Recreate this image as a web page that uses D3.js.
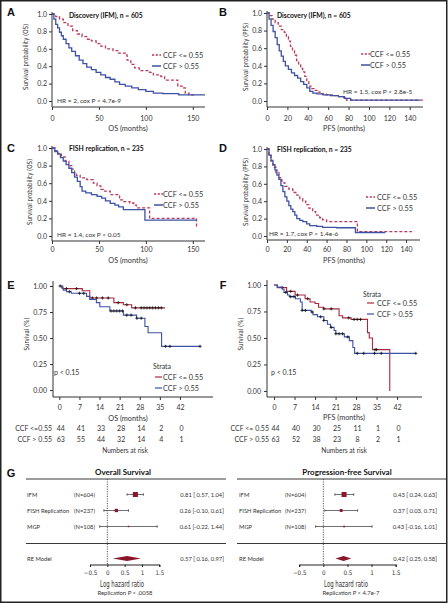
<!DOCTYPE html>
<html><head><meta charset="utf-8">
<script src="https://cdn.jsdelivr.net/npm/d3@7"></script>
<style>body{margin:0;background:#fff}svg{display:block}</style>
</head><body>
<script>
// ================= DATA =================
// Kaplan-Meier step points [time (months), survival]; last point = last follow-up
const A_red  = [[0,1],[4,0.97],[8,0.94],[12,0.9],[17,0.86],[22,0.81],[27,0.77],[32,0.74],[37,0.71],[42,0.69],[47,0.66],[52,0.63],[57,0.60],[65,0.58],[70,0.55],[78,0.53],[80,0.47],[84,0.42],[88,0.38],[93,0.35],[104,0.33],[108,0.30],[116,0.28],[120,0.24],[132,0.24],[134,0.17],[140,0.15],[142,0.09],[146,0.07],[152,0.07]];
const A_blue = [[0,1],[2,0.94],[4,0.88],[6,0.84],[8,0.79],[10,0.75],[12,0.71],[15,0.66],[18,0.61],[21,0.57],[25,0.52],[29,0.47],[33,0.43],[37,0.39],[42,0.36],[47,0.33],[52,0.30],[57,0.27],[62,0.25],[67,0.22],[72,0.19],[78,0.17],[85,0.15],[92,0.13],[100,0.11],[108,0.09],[118,0.085],[135,0.07],[163,0.07]];
const B_red  = [[0,1],[2,0.97],[5,0.93],[8,0.89],[11,0.85],[14,0.81],[17,0.78],[19,0.73],[21,0.68],[23,0.62],[25,0.57],[27,0.52],[29,0.46],[31,0.41],[33,0.37],[35,0.33],[37,0.28],[39,0.22],[41,0.17],[43,0.14],[46,0.12],[49,0.10],[53,0.08],[58,0.07],[64,0.06],[70,0.05],[75,0.04],[78,0.01],[153,0.01]];
const B_blue = [[0,1],[2,0.93],[4,0.86],[6,0.79],[8,0.72],[10,0.64],[12,0.57],[14,0.51],[16,0.45],[18,0.40],[21,0.36],[24,0.32],[27,0.29],[30,0.26],[33,0.22],[36,0.19],[39,0.15],[42,0.11],[45,0.09],[49,0.08],[55,0.07],[62,0.06],[70,0.05],[76,0.03],[82,0.01],[150,0.01]];
const C_red  = [[0,1],[3,0.97],[6,0.94],[10,0.90],[14,0.85],[18,0.80],[21,0.76],[24,0.72],[26,0.69],[30,0.66],[37,0.64],[44,0.60],[48,0.57],[52,0.53],[55,0.51],[62,0.47],[72,0.41],[76,0.39],[83,0.375],[87,0.35],[90,0.32],[104,0.20],[154,0.10],[155,0.10]];
const C_blue = [[0,1],[3,0.96],[6,0.93],[9,0.89],[12,0.85],[15,0.81],[18,0.77],[21,0.72],[24,0.67],[27,0.62],[30,0.56],[32,0.51],[36,0.49],[42,0.47],[48,0.45],[53,0.43],[57,0.40],[62,0.37],[67,0.35],[71,0.33],[76,0.30],[99,0.18],[154,0.18]];
const D_red  = [[0,1],[2,0.93],[4,0.86],[6,0.79],[9,0.73],[12,0.67],[15,0.61],[18,0.57],[22,0.54],[26,0.50],[30,0.47],[33,0.43],[36,0.40],[39,0.36],[42,0.32],[46,0.28],[49,0.24],[53,0.21],[56,0.185],[60,0.165],[91,0.05],[146,0.05]];
const D_blue = [[0,1],[2,0.93],[4,0.87],[6,0.82],[8,0.76],[10,0.70],[12,0.65],[14,0.58],[16,0.51],[18,0.45],[20,0.40],[22,0.35],[24,0.31],[26,0.28],[28,0.24],[30,0.20],[33,0.18],[36,0.165],[40,0.14],[43,0.12],[50,0.11],[56,0.10],[70,0.095],[89,0.04],[119,0.04]];
const E_red  = [[0,1],[1.2,0.975],[8,0.955],[10.6,0.885],[19,0.84],[22.3,0.82],[25.2,0.79],[36.8,0.79]];
const E_blue = [[0,1],[0.8,0.98],[1.4,0.96],[2.5,0.945],[4.2,0.93],[9.5,0.9],[10.6,0.87],[12.9,0.84],[14.1,0.80],[17.6,0.76],[22.3,0.72],[26.9,0.69],[29.8,0.61],[30.9,0.55],[35.6,0.42],[49,0.42]];
const F_red  = [[0,1],[1.1,0.975],[4.3,0.94],[7.2,0.905],[10.6,0.87],[12.3,0.84],[14,0.825],[15.2,0.79],[17,0.775],[22.2,0.71],[23.4,0.69],[26.3,0.675],[31.9,0.55],[32.5,0.50],[33.6,0.39],[39.5,0]];
const F_blue = [[0,1],[1.1,0.98],[2.8,0.96],[3.4,0.93],[4.6,0.905],[5.2,0.89],[7.3,0.87],[9,0.84],[9.6,0.76],[12.7,0.745],[13.3,0.72],[14.8,0.70],[17,0.665],[18.2,0.63],[19.3,0.60],[20.5,0.57],[21.1,0.54],[24,0.51],[25.7,0.475],[26.9,0.41],[27.5,0.355],[48.4,0.355]];
// censoring times
const E_redCens  = [0.3,2.5,6,11.5,13,15,17,20.5,23.5,26.5,28.5,29.5,30.5,31.5,32.5,33.5,34.5,35.5];
const E_blueCens = [3.5,7,8.5,18,19,20,21,22,23.5,25,27,28.5,37,38.5,49];
const F_redCens  = [2.8,5.7,8,11.5,17,19.5,25.5,27.3,28.4,29.5,34.5,35];
const F_blueCens = [4,5.7,6.8,9.6,10.7,13,15.9,17,19.5,21.1,22.2,23.4,25.2,28.4,30.6,34.3,36.6,48.4];
// numbers at risk
const E_riskLow  = [44,41,33,28,14,2,0];
const E_riskHigh = [63,55,44,32,14,4,1];
const F_riskLow  = [44,40,30,25,11,1,0];
const F_riskHigh = [63,52,38,23,8,2,1];
// ticks
const ticksOS = [0,50,100,150];
const ticksPFS = [0,20,40,60,80,100,120,140];
const ticksProb = [0,0.2,0.4,0.6,0.8,1];
const ticksRiskX = [0,7,14,21,28,35,42];
const ticksRiskY = [0,0.25,0.5,0.75,1];
const ticksForest = [-0.5,0,0.5,1,1.5];
// forest
const studies = ["IFM","FISH Replication","MGP"];
const studyN = ["(N=604)","(N=237)","(N=108)"];
const osEst = [0.81,0.26,0.61], osLo = [0.57,-0.10,-0.22], osHi = [1.04,0.61,1.44];
const osRE = [0.57,0.16,0.97];
const pfsEst = [0.43,0.37,0.43], pfsLo = [0.24,0.03,-0.16], pfsHi = [0.63,0.71,1.01];
const pfsRE = [0.42,0.25,0.58];

// ================= DRAW =================
const FONT = "Lato, 'Open Sans', sans-serif";
const NARROW = "'Liberation Sans Narrow', 'DejaVu Sans Condensed', sans-serif";
const RED = "#b83a5c", BLUE = "#3d52a3", RED2 = "#a8283e", BLUE2 = "#3b50a6", DARKRED = "#8b1428";
const TXT = "#333";

const svg = d3.select("body").append("svg").attr("width",448).attr("height",605)
  .style("font-family", FONT);
svg.append("rect").attr("width",448).attr("height",605).attr("fill","#fff");
svg.append("rect").attr("x",0.75).attr("y",0.75).attr("width",446).attr("height",601.5)
  .attr("fill","none").attr("stroke","#222").attr("stroke-width",1.5);

function text(g, x, y, s, o={}) {
  const t = g.append("text").attr("x",x).attr("y",y).text(s)
    .attr("dominant-baseline","central").attr("fill", o.fill||TXT)
    .attr("font-size", o.size||7).attr("text-anchor", o.anchor||"start");
  if (o.weight) t.attr("font-weight", o.weight);
  if (o.family) t.attr("font-family", o.family);
  if (o.rotate) t.attr("transform", `rotate(-90,${x},${y})`);
  if (o.len) t.attr("textLength", o.len).attr("lengthAdjust","spacingAndGlyphs");
  return t;
}
function sAt(curve, t) { let v = curve[0][1]; for (const [tt,s] of curve) { if (tt <= t) v = s; else break; } return v; }

// panel letters
[["A",11,12],["B",223,12],["C",11,148],["D",223,148],["E",11,285],["F",223,285],["G",11,473]]
  .forEach(([l,x,y]) => text(svg,x,y,l,{size:11,weight:"bold",anchor:"middle",fill:"#111",family:"'Liberation Sans', Arial, sans-serif"}));

function drawKM(p) {
  const g = svg.append("g");
  const x = d3.scaleLinear().domain(p.xDom).range(p.xRange);
  const y = d3.scaleLinear().domain(p.yDom).range(p.yRange);
  const x0 = p.xRange[0];
  // x axis
  const ax = g.append("g").attr("transform",`translate(0,${p.axisY})`)
    .call(d3.axisBottom(x).tickValues(p.xTicks).tickSize(3).tickFormat(d3.format("d")));
  ax.select(".domain").remove();
  ax.selectAll("line").attr("stroke",TXT);
  ax.selectAll("text").attr("y",p.xLabOff).attr("dy",null).attr("dominant-baseline","central")
    .attr("font-size",p.tickSize||7).attr("fill",TXT).attr("font-family",FONT);
  g.append("line").attr("x1",x0).attr("x2",p.xRange[1]).attr("y1",p.axisY).attr("y2",p.axisY).attr("stroke",TXT);
  // y axis
  const ay = g.append("g").attr("transform",`translate(${x0},0)`)
    .call(d3.axisLeft(y).tickValues(p.yTicks).tickSize(3).tickPadding(p.yPad).tickFormat(d3.format(p.yFmt)));
  ay.select(".domain").remove();
  ay.selectAll("line").attr("stroke",TXT);
  ay.selectAll("text").attr("font-size",p.tickSize||7).attr("fill",TXT).attr("font-family",FONT);
  g.append("line").attr("x1",x0).attr("x2",x0).attr("y1",p.yLineTop).attr("y2",p.axisY).attr("stroke",TXT);
  // labels
  text(g, p.xLab[1], p.xLab[2], p.xLab[0], {anchor:"middle", size:7.3});
  text(g, p.yLab[1], p.yLab[2], p.yLab[0], {anchor:"middle", size:7, rotate:true, family:NARROW, len:p.yLab[3]});
  // curves
  const line = d3.line().x(d=>x(d[0])).y(d=>y(d[1])).curve(d3.curveStepAfter);
  p.curves.forEach(c => {
    g.append("path").attr("d", line(c.data)).attr("fill","none").attr("stroke",c.color)
      .attr("stroke-width",c.width||1.3).attr("stroke-dasharray",c.dash||null);
    if (c.cens) c.cens.forEach(t => {
      g.append("path").attr("d","M-1.6,0H1.6M0,-1.6V1.6")
        .attr("transform",`translate(${x(t)},${y(sAt(c.data,t))})`)
        .attr("stroke","#111").attr("stroke-width",0.8);
    });
  });
  return {g,x,y};
}

const kmPanels = [
  {xDom:[0,163], xRange:[52,205], yDom:[0,1], yRange:[101,14], axisY:107, yLineTop:12, xTicks:ticksOS, xLabOff:11,
   yTicks:ticksProb, yFmt:".1f", yPad:2, xLab:["OS (months)",128,128], yLab:["Survival probability (OS)",26,57,66],
   curves:[{data:A_red,color:RED,dash:"3,2"},{data:A_blue,color:BLUE}],
   title:["Discovery (IFM), n = 605",69,15], legend:[152,163,55,66], hr:["HR = 2, cox P < 4.7e-9",57,100,"start"]},
  {xDom:[0,153], xRange:[267,423], yDom:[0,1], yRange:[101,13], axisY:107, yLineTop:11, xTicks:ticksPFS, xLabOff:11,
   yTicks:ticksProb, yFmt:".1f", yPad:2, xLab:["PFS (months)",344,128], yLab:["Survival probability (PFS)",246,57,68],
   curves:[{data:B_red,color:RED,dash:"3,2"},{data:B_blue,color:BLUE}],
   title:["Discovery (IFM), n = 605",277,15], legend:[361,370,54,65], hr:["HR = 1.5, cox P < 2.8e-5",343,91,"start"]},
  {xDom:[0,163], xRange:[52,205], yDom:[0,1], yRange:[236,148], axisY:241, yLineTop:146, xTicks:ticksOS, xLabOff:8,
   yTicks:ticksProb, yFmt:".1f", yPad:2, xLab:["OS (months)",128,260], yLab:["Survival probability (OS)",30,192,66],
   curves:[{data:C_red,color:RED,dash:"3,2"},{data:C_blue,color:BLUE}],
   title:["FISH replication, n = 235",69,148], legend:[154,163,194,205], hr:["HR = 1.4, cox P < 0.05",57,234,"start"]},
  {xDom:[0,154], xRange:[267,420], yDom:[0,1], yRange:[236,149], axisY:240, yLineTop:147, xTicks:ticksPFS, xLabOff:9,
   yTicks:ticksProb, yFmt:".1f", yPad:2, xLab:["PFS (months)",344,260], yLab:["Survival probability (PFS)",246,192,68],
   curves:[{data:D_red,color:RED,dash:"3,2"},{data:D_blue,color:BLUE}],
   title:["FISH replication, n = 235",277,149], legend:[366,377,197,208], hr:["HR = 1.7, cox P < 1.4e-6",269,233,"start"]}
];
kmPanels.forEach(p => {
  const {g} = drawKM(p);
  text(g, p.title[1], p.title[2], p.title[0], {size:6.8, weight:"bold", fill:"#111"});
  const [lx, tx, y1, y2] = p.legend;
  g.append("line").attr("x1",lx).attr("x2",lx+9).attr("y1",y1).attr("y2",y1).attr("stroke",RED).attr("stroke-width",1.3).attr("stroke-dasharray","2.2,1.5");
  g.append("line").attr("x1",lx).attr("x2",lx+9).attr("y1",y2).attr("y2",y2).attr("stroke",BLUE).attr("stroke-width",1.5);
  text(g, tx, y1, "CCF <= 0.55", {size:7.3});
  text(g, tx, y2, "CCF > 0.55", {size:7.3});
  text(g, p.hr[1], p.hr[2], p.hr[0], {size:6.5});
});

const riskPanels = [
  {xDom:[-2.2,53.5], xRange:[53,213], yDom:[-0.067,1.048], yRange:[397,281], axisY:397, yLineTop:281, xTicks:ticksRiskX, xLabOff:10,
   yTicks:ticksRiskY, yFmt:".2f", yPad:3, xLab:["OS (months)",128,418], yLab:["Survival (%)",27,334,33],
   curves:[{data:E_red,color:RED2,width:1.1,cens:E_redCens},{data:E_blue,color:BLUE2,width:1.1,cens:E_blueCens}],
   legend:[153,155,163,366,377,388], p:[54,372], risk:[E_riskLow,E_riskHigh], riskLab:["CCF <=0.55","CCF > 0.55"], riskX:52, nar:[125,450]},
  {xDom:[-2.4,50.5], xRange:[267,422], yDom:[-0.057,1.047], yRange:[397,280], axisY:397, yLineTop:280, xTicks:ticksRiskX, xLabOff:10,
   yTicks:ticksRiskY, yFmt:".2f", yPad:3, xLab:["PFS (months)",344,417], yLab:["Survival (%)",241,334,33],
   curves:[{data:F_red,color:RED2,width:1.1,cens:F_redCens},{data:F_blue,color:BLUE2,width:1.1,cens:F_blueCens}],
   legend:[363,367,377,294,303,314], p:[271,372], risk:[F_riskLow,F_riskHigh], riskLab:["CCF <= 0.55","CCF > 0.55"], riskX:269, nar:[344,450]}
];
riskPanels.forEach(p => {
  const {g,x} = drawKM(p);
  const [sx, lx, tx, ys, y1, y2] = p.legend;
  text(g, sx, ys, "Strata", {size:7});
  g.append("line").attr("x1",lx).attr("x2",lx+7).attr("y1",y1).attr("y2",y1).attr("stroke",RED2).attr("stroke-width",1.2);
  g.append("line").attr("x1",lx).attr("x2",lx+7).attr("y1",y2).attr("y2",y2).attr("stroke",BLUE2).attr("stroke-width",1.2);
  text(g, tx, y1, "CCF <= 0.55", {size:7.3});
  text(g, tx, y2, "CCF > 0.55", {size:7.3});
  text(g, p.p[0], p.p[1], "p < 0.15", {size:7});
  const rows = [428, 439];
  p.risk.forEach((arr, i) => {
    text(g, p.riskX, rows[i], p.riskLab[i], {size:7, anchor:"end"});
    arr.forEach((v, j) => text(g, x(ticksRiskX[j]) + 1.5, rows[i], String(v), {size:7, anchor:"middle"}));
  });
  text(g, p.nar[0], p.nar[1], "Numbers at risk", {size:6.6, anchor:"middle"});
});

// forest plots
function fmt(v) { return (v < 0 ? "" : " ") + v.toFixed(2); }
function forest(f) {
  const g = svg.append("g");
  const x = d3.scaleLinear().domain([-0.5,1.5]).range(f.range);
  const rows = d3.scalePoint().domain(["r0","r1","r2","gap","re"]).range([494.5,558.5]);
  const keys = ["r0","r1","r2"];
  text(g, f.titleX, 472, f.title, {size:8, weight:"bold", anchor:"middle", fill:"#111"});
  [479, 543.5].forEach(yy => g.append("line").attr("x1",f.lineX[0]).attr("x2",f.lineX[1]).attr("y1",yy).attr("y2",yy).attr("stroke","#222").attr("stroke-width",0.9));
  g.append("line").attr("x1",x(0)).attr("x2",x(0)).attr("y1",479).attr("y2",565).attr("stroke","#333").attr("stroke-width",0.8).attr("stroke-dasharray","1.2,1.2");
  const w = f.lo.map((lo,i) => { const se = (f.hi[i]-lo)/3.92; return 1/(se*se); });
  const wMax = d3.max(w);
  studies.forEach((s, i) => {
    const yy = rows(keys[i]);
    text(g, f.labX, yy, s, {size:5.8});
    text(g, f.nX, yy, studyN[i], {size:5.8, anchor:"end"});
    text(g, f.valX, yy, `${f.est[i].toFixed(2)} [${fmt(f.lo[i])}, ${f.hi[i].toFixed(2)}]`, {size:5.8, anchor:"end"});
    g.append("line").attr("x1",x(f.lo[i])).attr("x2",x(f.hi[i])).attr("y1",yy).attr("y2",yy).attr("stroke","#333").attr("stroke-width",0.7);
    [f.lo[i], f.hi[i]].forEach(v => g.append("line").attr("x1",x(v)).attr("x2",x(v)).attr("y1",yy-1.3).attr("y2",yy+1.3).attr("stroke","#333").attr("stroke-width",0.7));
    const sz = 5 * Math.sqrt(w[i]/wMax);
    g.append("rect").attr("x",x(f.est[i])-sz/2).attr("y",yy-sz/2).attr("width",sz).attr("height",sz).attr("fill",DARKRED);
  });
  const yr = rows("re");
  text(g, f.labX, yr, "RE Model", {size:5.8});
  text(g, f.valX, yr, `${f.re[0].toFixed(2)} [${fmt(f.re[1])}, ${f.re[2].toFixed(2)}]`, {size:5.8, anchor:"end"});
  g.append("path").attr("d", `M${x(f.re[1])},${yr}L${x(f.re[0])},${yr-2.4}L${x(f.re[2])},${yr}L${x(f.re[0])},${yr+2.4}Z`).attr("fill",DARKRED);
  const ax = g.append("g").attr("transform","translate(0,564.5)")
    .call(d3.axisBottom(x).tickValues(ticksForest).tickSize(2.5).tickFormat(d => d3.format("")(d)));
  ax.select(".domain").attr("stroke","#222");
  ax.selectAll("line").attr("stroke","#222");
  ax.selectAll("text").attr("y",7.5).attr("dy",null).attr("dominant-baseline","central")
    .attr("font-size",6.2).attr("fill",TXT).attr("font-family",NARROW);
  text(g, f.titleX - 1, 583.5, "Log hazard ratio", {size:8.5, anchor:"middle", family:NARROW, len:44});
  text(g, f.repX, 592.5, f.rep, {size:5.9, anchor:"middle"});
}
forest({title:"Overall Survival", titleX:123, lineX:[26,226], range:[90,159.3], labX:27, nX:95, valX:224,
  est:osEst, lo:osLo, hi:osHi, re:osRE, rep:"Replication P < .0058", repX:125});
forest({title:"Progression-free Survival", titleX:347, lineX:[237,447], range:[299.2,395.7], labX:239, nX:306, valX:437,
  est:pfsEst, lo:pfsLo, hi:pfsHi, re:pfsRE, rep:"Replication P < 4.7e-7", repX:351});
</script>
</body></html>
